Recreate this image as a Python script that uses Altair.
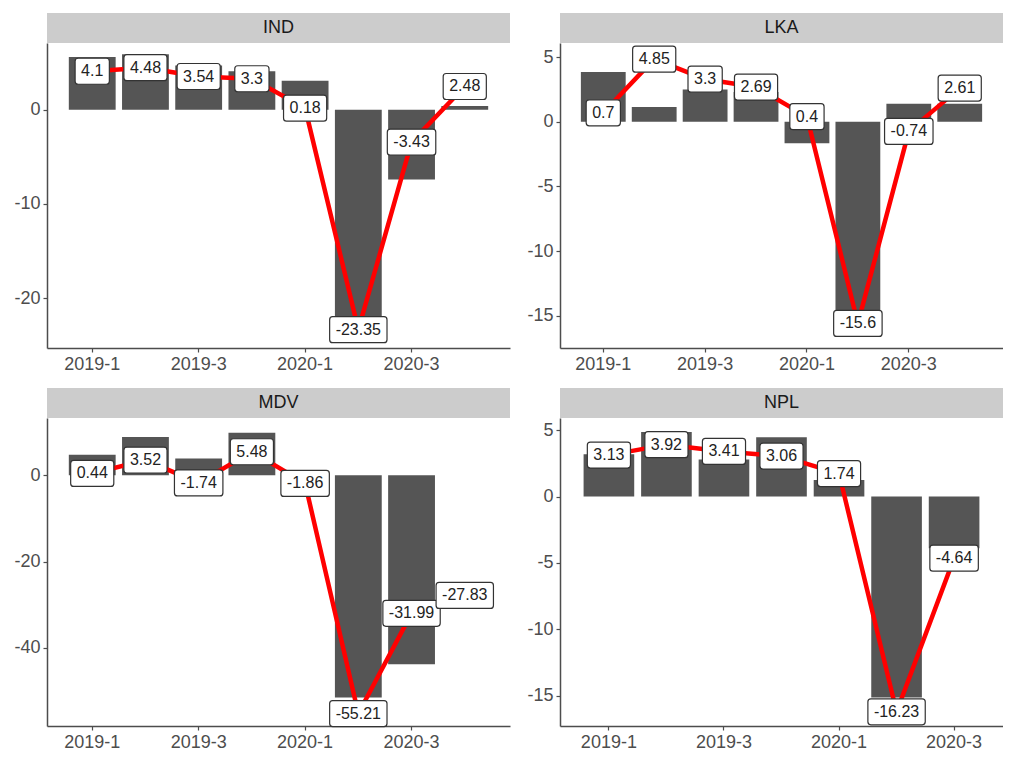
import altair as alt
import pandas as pd

quarters = ["2019-1", "2019-2", "2019-3", "2019-4", "2020-1", "2020-2", "2020-3", "2020-4"]
tick_quarters = ["2019-1", "2019-3", "2020-1", "2020-3"]

# line (labelled) series per country
ind_line = [4.1, 4.48, 3.54, 3.3, 0.18, -23.35, -3.43, 2.48]
lka_line = [0.7, 4.85, 3.3, 2.69, 0.4, -15.6, -0.74, 2.61]
mdv_line = [0.44, 3.52, -1.74, 5.48, -1.86, -55.21, -31.99, -27.83]
npl_line = [3.13, 3.92, 3.41, 3.06, 1.74, -16.23, -4.64]

# bar series per country
ind_bar = [5.6, 5.9, 4.7, 4.1, 3.1, -22.2, -7.4, 0.4]
lka_bar = [3.85, 1.15, 2.5, 2.3, -1.66, -14.6, 1.4, 1.4]
mdv_bar = [4.8, 8.9, 3.9, 9.9, -1.5, -51.5, -43.8, None]
npl_bar = [3.2, 4.87, 2.8, 4.47, 1.26, -15.15, -3.9]

# y ranges and tick values
ind_dom, ind_ticks = [-25.3, 7.1], [-20, -10, 0]
lka_dom, lka_ticks = [-17.5, 6.1], [-15, -10, -5, 0, 5]
mdv_dom, mdv_ticks = [-58.1, 13.3], [-40, -20, 0]
npl_dom, npl_ticks = [-17.3, 5.93], [-15, -10, -5, 0, 5]

AXIS_COLOR = "#4d4d4d"
FONT = "Liberation Sans"


def text_width(s, fs=16):
    w = 0.0
    for ch in s:
        if ch.isdigit():
            w += 0.556
        elif ch == ".":
            w += 0.278
        elif ch == "-":
            w += 0.333
        else:
            w += 0.556
    return w * fs


def box_path(s):
    w = (text_width(s) + 12) / 2
    h = 13
    r = 3
    return (f"M{-w + r},{-h} L{w - r},{-h} Q{w},{-h} {w},{-h + r} L{w},{h - r} "
            f"Q{w},{h} {w - r},{h} L{-w + r},{h} Q{-w},{h} {-w},{h - r} "
            f"L{-w},{-h + r} Q{-w},{-h} {-w + r},{-h} Z")


def panel(name, line, bars, dom, ticks, width, height):
    n = len(line)
    qs = quarters[:n]
    labels = [str(v) for v in line]
    df = pd.DataFrame({
        "quarter": qs,
        "value": line,
        "bar": bars,
        "idx": list(range(n)),
        "label": labels,
        "box": [box_path(s) for s in labels],
    })
    xscale = alt.Scale(domain=qs, paddingInner=0.12, paddingOuter=0.41)
    xaxis = alt.Axis(values=[q for q in tick_quarters if q in qs], title=None, labelAngle=0,
                     tickSize=4, labelPadding=3)
    yscale = alt.Scale(domain=dom, nice=False, zero=False)
    yaxis = alt.Axis(values=ticks, title=None, grid=False, tickSize=4, labelPadding=3,
                     minExtent=39, labelExpr="toString(datum.value)")

    def X():
        return alt.X("quarter:N", sort=qs, scale=xscale, axis=xaxis)

    def Y(field):
        return alt.Y(field, type="quantitative", scale=yscale, axis=yaxis)

    base = alt.Chart(df)
    bar = base.mark_bar(color="#555555").encode(x=X(), y=Y("bar"), y2=alt.datum(0))
    ln = base.mark_line(color="#ff0000", strokeWidth=4.5, strokeJoin="round").encode(
        x=X(), y=Y("value"), order="idx:Q")
    boxes = base.mark_point(size=4, filled=True, fill="white", stroke="#333333",
                            strokeWidth=1.2, opacity=1).encode(
        x=X(), y=Y("value"), shape=alt.Shape("box:N", scale=None, legend=None))
    txt = base.mark_text(fontSize=16, font=FONT, color="#222222", baseline="middle",
                         align="center").encode(x=X(), y=Y("value"), text="label:N")
    strip = alt.Chart(pd.DataFrame({"name": [name]})).mark_rect(color="#cccccc").encode(
        x=alt.value(0), x2=alt.value(width), y=alt.value(-30), y2=alt.value(0))
    strip_t = alt.Chart(pd.DataFrame({"name": [name]})).mark_text(
        fontSize=18, font=FONT, color="#1a1a1a", baseline="middle", align="center").encode(
        x=alt.value(width / 2), y=alt.value(-15), text="name:N")
    return alt.layer(strip, strip_t, bar, ln, boxes, txt).properties(width=width, height=height)


LW, RW = 463, 443
top = alt.hconcat(
    panel("IND", ind_line, ind_bar, ind_dom, ind_ticks, LW, 305),
    panel("LKA", lka_line, lka_bar, lka_dom, lka_ticks, RW, 305),
    spacing=11,
)
bottom = alt.hconcat(
    panel("MDV", mdv_line, mdv_bar, mdv_dom, mdv_ticks, LW, 308),
    panel("NPL", npl_line, npl_bar, npl_dom, npl_ticks, RW, 308),
    spacing=11,
)

chart = alt.vconcat(top, bottom, spacing=15).properties(
    padding={"top": 5, "left": 0, "right": 0, "bottom": 0}
).configure_view(stroke=None).configure_axis(
    domainColor=AXIS_COLOR, domainWidth=1.5, tickColor=AXIS_COLOR, tickWidth=1.2,
    labelColor=AXIS_COLOR, labelFont=FONT, labelFontSize=18,
).configure_concat(spacing=11)

chart.save("out.html", embed_options={"renderer": "svg", "actions": False})
